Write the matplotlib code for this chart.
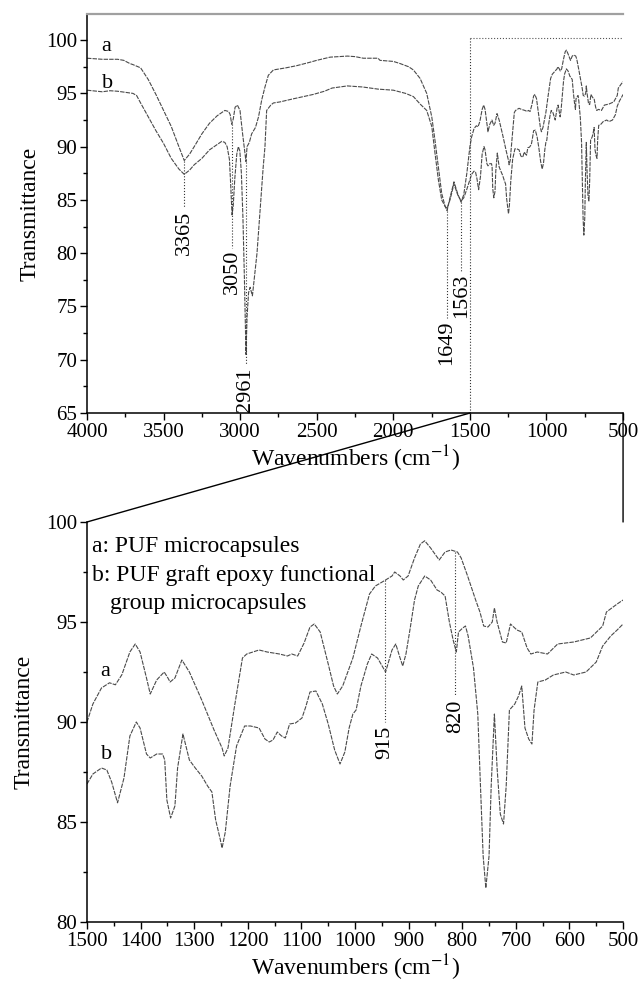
import numpy as np
import matplotlib
matplotlib.use("Agg")
import matplotlib.pyplot as plt
from matplotlib.patches import ConnectionPatch

plt.rcParams['font.family'] = ['Liberation Serif', 'DejaVu Serif']
plt.rcParams['mathtext.fontset'] = 'stix'

# FTIR spectra, 4000 -> 1500 cm-1
wn_a_hi = [4000, 3900, 3800, 3760, 3720, 3700, 3650, 3600, 3550, 3500, 3450, 3400, 3365,
           3330, 3300, 3250, 3200, 3150, 3100, 3075, 3065, 3055, 3045, 3033, 3018, 3001,
           2984, 2970, 2962, 2955, 2940, 2925, 2900, 2880, 2859, 2838, 2816, 2783, 2700,
           2631, 2550, 2500, 2413, 2300, 2250, 2196, 2100, 2087, 2000, 1956, 1900, 1869,
           1825, 1782, 1749, 1728, 1706, 1684, 1662, 1649, 1630, 1604, 1580, 1558, 1540, 1520]
t_a_hi = [98.3, 98.2, 98.2, 98.1, 97.8, 97.7, 97.4, 96.3, 94.9, 93.4, 91.9, 90.0, 88.7,
          89.3, 90.0, 91.2, 92.2, 92.9, 93.4, 93.3, 93.0, 92.1, 92.6, 93.7, 93.9, 93.4,
          91.2, 89.5, 88.6, 90.0, 90.4, 91.2, 91.8, 92.8, 94.4, 95.6, 96.7, 97.2, 97.4,
          97.6, 97.9, 98.1, 98.4, 98.5, 98.45, 98.3, 98.3, 98.1, 98.0, 97.8, 97.5, 97.2,
          96.4, 95.0, 92.8, 90.6, 88.1, 85.6, 84.4, 84.0, 85.2, 86.7, 85.6, 84.8, 85.5, 87.5]

wn_b_hi = [4000, 3900, 3850, 3800, 3750, 3700, 3676, 3650, 3600, 3550, 3500, 3450, 3400,
           3365, 3330, 3300, 3250, 3200, 3150, 3120, 3100, 3085, 3070, 3062, 3053, 3045,
           3035, 3022, 3012, 3002, 2992, 2982, 2972, 2962, 2955, 2945, 2935, 2920, 2905,
           2890, 2870, 2850, 2838, 2827, 2800, 2783, 2740, 2650, 2585, 2523, 2450,
           2400, 2300, 2200, 2100, 2000, 1920, 1869, 1825, 1782, 1749, 1728, 1706, 1684,
           1662, 1649, 1630, 1604, 1580, 1558, 1540, 1520]
t_b_hi = [95.3, 95.15, 95.25, 95.2, 95.1, 95.0, 94.8, 94.1, 92.8, 91.5, 90.3, 88.9, 87.9,
          87.4, 87.8, 88.3, 88.9, 89.7, 90.2, 90.5, 90.4, 90.0, 88.8, 86.5, 83.6, 84.5,
          87.0, 89.3, 90.0, 89.6, 87.5, 83.4, 77.5, 70.5, 74.0, 76.3, 76.8, 76.0, 78.0,
          80.0, 84.0, 88.0, 90.0, 93.4, 93.9, 94.1, 94.2, 94.5, 94.7, 94.9, 95.2,
          95.5, 95.7, 95.6, 95.4, 95.3, 95.0, 94.7, 94.0, 93.4, 91.9, 89.4, 86.9, 85.0,
          84.4, 84.2, 85.0, 86.5, 85.5, 84.9, 85.2, 86.0]

# 1500 -> 500 cm-1
wn_a_lo = [1500, 1489, 1473, 1458, 1447, 1435, 1420, 1410, 1401, 1389, 1382, 1370, 1356,
           1349, 1345, 1336, 1323, 1309, 1286, 1263, 1248, 1244, 1237, 1225, 1210, 1202,
           1179, 1164, 1141, 1126, 1118, 1107, 1095, 1084, 1076, 1065, 1050, 1040, 1033,
           1023, 1004, 989, 973, 962, 943, 931, 926, 916, 910, 901, 889, 878, 870, 859,
           843, 832, 821, 809, 802, 790, 775, 767, 760, 752, 744, 740, 735, 725, 718, 710,
           698, 689, 679, 672, 660, 641, 622, 592, 561, 538, 531, 511, 500]
t_a_lo = [90.0, 90.9, 91.7, 91.96, 91.86, 92.36, 93.5, 93.9, 93.5, 92.2, 91.4, 92.1, 92.5,
          92.2, 92.0, 92.2, 93.1, 92.5, 91.1, 89.6, 88.7, 88.3, 88.7, 90.75, 93.2, 93.4,
          93.6, 93.5, 93.4, 93.3, 93.4, 93.3, 93.95, 94.75, 94.9, 94.5, 92.9, 91.8, 91.4,
          91.8, 93.2, 94.8, 96.4, 96.8, 97.1, 97.3, 97.5, 97.3, 97.1, 97.3, 98.2, 98.9,
          99.06, 98.7, 98.1, 98.5, 98.6, 98.5, 98.2, 97.3, 96.1, 95.5, 94.8, 94.75, 95.0,
          95.7, 95.0, 94.0, 93.95, 94.9, 94.6, 94.5, 93.7, 93.4, 93.5, 93.4, 93.9, 94.0,
          94.2, 94.8, 95.5, 95.9, 96.1]

wn_b_lo = [1500, 1489, 1473, 1463, 1454, 1443, 1431, 1420, 1408, 1401, 1389, 1382, 1370,
           1359, 1355, 1351, 1344, 1336, 1331, 1321, 1309, 1298, 1286, 1275, 1267, 1260,
           1252, 1248, 1242, 1233, 1221, 1206, 1195, 1179, 1168, 1160, 1153, 1145, 1137,
           1130, 1122, 1111, 1099, 1092, 1084, 1073, 1061, 1050, 1038, 1028, 1019, 1011,
           1004, 998, 989, 977, 969, 958, 943, 931, 924, 916, 911, 905, 897, 889, 882, 870,
           859, 847, 840, 832, 824, 817, 811, 807, 799, 794, 789, 779, 771, 766, 761, 756,
           750, 746, 740, 735, 729, 723, 718, 712, 702, 695, 689, 683, 676, 670, 666, 659,
           645, 630, 607, 592, 569, 550, 538, 523, 511, 500]
t_b_lo = [86.9, 87.4, 87.7, 87.6, 87.0, 85.96, 87.2, 89.3, 90.0, 89.7, 88.4, 88.2, 88.4,
          88.4, 88.1, 86.1, 85.2, 85.8, 87.7, 89.4, 88.1, 87.7, 87.3, 86.8, 86.5, 85.1,
          84.2, 83.7, 84.5, 86.8, 88.8, 89.8, 89.8, 89.7, 89.15, 89.0, 89.1, 89.5, 89.3,
          89.2, 89.9, 89.95, 90.2, 90.75, 91.5, 91.55, 90.9, 89.9, 88.6, 87.9, 88.5, 89.7,
          90.4, 90.6, 91.8, 92.9, 93.4, 93.2, 92.5, 93.6, 93.9, 93.2, 92.8, 93.4, 94.7,
          96.1, 96.8, 97.3, 97.1, 96.6, 96.5, 96.3, 95.0, 94.1, 93.5, 94.5, 94.7, 94.8,
          94.3, 92.7, 90.4, 86.8, 83.3, 81.7, 83.3, 86.8, 90.4, 87.7, 85.4, 84.9, 86.8,
          90.6, 90.9, 91.3, 91.8, 89.7, 89.15, 88.9, 90.6, 92.0, 92.1, 92.35, 92.5, 92.35,
          92.5, 93.0, 93.8, 94.3, 94.6, 94.9]

wn_a = wn_a_hi + wn_a_lo
t_a = t_a_hi + t_a_lo
wn_b = wn_b_hi + wn_b_lo
t_b = t_b_hi + t_b_lo

# peak labels: (position, label text, curve value, text top)
peaks_hi = [(3365, '3365', 88.7, 84.0), (3053, '3050', 92.1, 80.3),
            (2962, '2961', 88.6, 69.3), (1649, '1649', 84.0, 73.7),
            (1556, '1563', 84.8, 78.1)]
peaks_lo = [(944, '915', 97.1, 89.8), (813, '820', 98.5, 91.1)]

line_kw = dict(color='#4a4a4a', lw=0.8, ls=(0, (4, 1)))
tick_fs = 15
lab_fs = 17

fig = plt.figure(figsize=(6.42, 9.86), dpi=100)
ax1 = fig.add_axes([0.1355, 0.5811, 0.835, 0.4047])
ax2 = fig.add_axes([0.1355, 0.0649, 0.835, 0.4057])

# upper panel
ax1.plot(wn_a, t_a, **line_kw)
ax1.plot(wn_b, t_b, **line_kw)
ax1.set_xlim(4000, 500)
ax1.set_ylim(65, 102.45)
ax1.set_xticks(np.arange(4000, 499, -500))
ax1.set_xticks(np.arange(3750, 500, -500), minor=True)
ax1.set_yticks(np.arange(65, 101, 5))
ax1.set_yticks(np.arange(67.5, 101, 5), minor=True)
ax1.spines['right'].set_visible(False)
ax1.spines['top'].set_color('#a0a0a0')
ax1.spines['top'].set_linewidth(1.6)
ax1.set_xlabel('Wavenumbers (cm$^{-1}$)', fontsize=lab_fs, labelpad=1)
ax1.set_ylabel('Transmittance', fontsize=lab_fs, labelpad=4)
ax1.text(3872, 99.4, 'a', fontsize=16, ha='center', va='center')
ax1.text(3866, 95.9, 'b', fontsize=16, ha='center', va='center')
# zoom box
ax1.plot([1500, 1500], [65, 100.16], color='#333333', lw=0.8, ls=':')
ax1.plot([1500, 500], [100.16, 100.16], color='#555555', lw=0.8, ls=':')
for x, s, y0, y1 in peaks_hi:
    ax1.plot([x, x], [y0, y1 + 0.2], color='#333333', lw=0.8, ls=':')
    ax1.text(x, y1, s, rotation=90, ha='center', va='top', fontsize=16)

# lower panel
ax2.plot(wn_a_lo, t_a_lo, **line_kw)
ax2.plot(wn_b_lo, t_b_lo, **line_kw)
ax2.set_xlim(1500, 500)
ax2.set_ylim(80, 100)
ax2.set_xticks(np.arange(1500, 499, -100))
ax2.set_xticks(np.arange(1450, 500, -100), minor=True)
ax2.set_yticks(np.arange(80, 101, 5))
ax2.set_yticks(np.arange(82.5, 100, 5), minor=True)
ax2.spines['right'].set_visible(False)
ax2.spines['top'].set_visible(False)
ax2.set_xlabel('Wavenumbers (cm$^{-1}$)', fontsize=lab_fs, labelpad=1)
ax2.set_ylabel('Transmittance', fontsize=lab_fs, labelpad=8)
ax2.text(1466, 92.5, 'a', fontsize=16, ha='center', va='center')
ax2.text(1463, 88.4, 'b', fontsize=16, ha='center', va='center')
ax2.text(1491, 98.75, 'a: PUF microcapsules', fontsize=17, ha='left', va='center')
ax2.text(1491, 97.33, 'b: PUF graft epoxy functional', fontsize=17, ha='left', va='center')
ax2.text(1458, 95.9, 'group microcapsules', fontsize=17, ha='left', va='center')
for x, s, y0, y1 in peaks_lo:
    ax2.plot([x, x], [y0, y1 + 0.2], color='#333333', lw=0.8, ls=':')
    ax2.text(x, y1, s, rotation=90, ha='center', va='top', fontsize=16)

for ax in (ax1, ax2):
    ax.tick_params(which='major', direction='out', length=5, width=1, labelsize=tick_fs, pad=2)
    ax.tick_params(which='minor', direction='out', length=3, width=1)
    for sp in ('left', 'bottom'):
        ax.spines[sp].set_linewidth(1.1)

# connector lines between panels
for xa in (1500, 500):
    con = ConnectionPatch(xyA=(xa, 65), coordsA=ax1.transData,
                          xyB=(xa, 100), coordsB=ax2.transData,
                          color='black', lw=1.0)
    fig.add_artist(con)

fig.savefig('out.png', dpi=100)
